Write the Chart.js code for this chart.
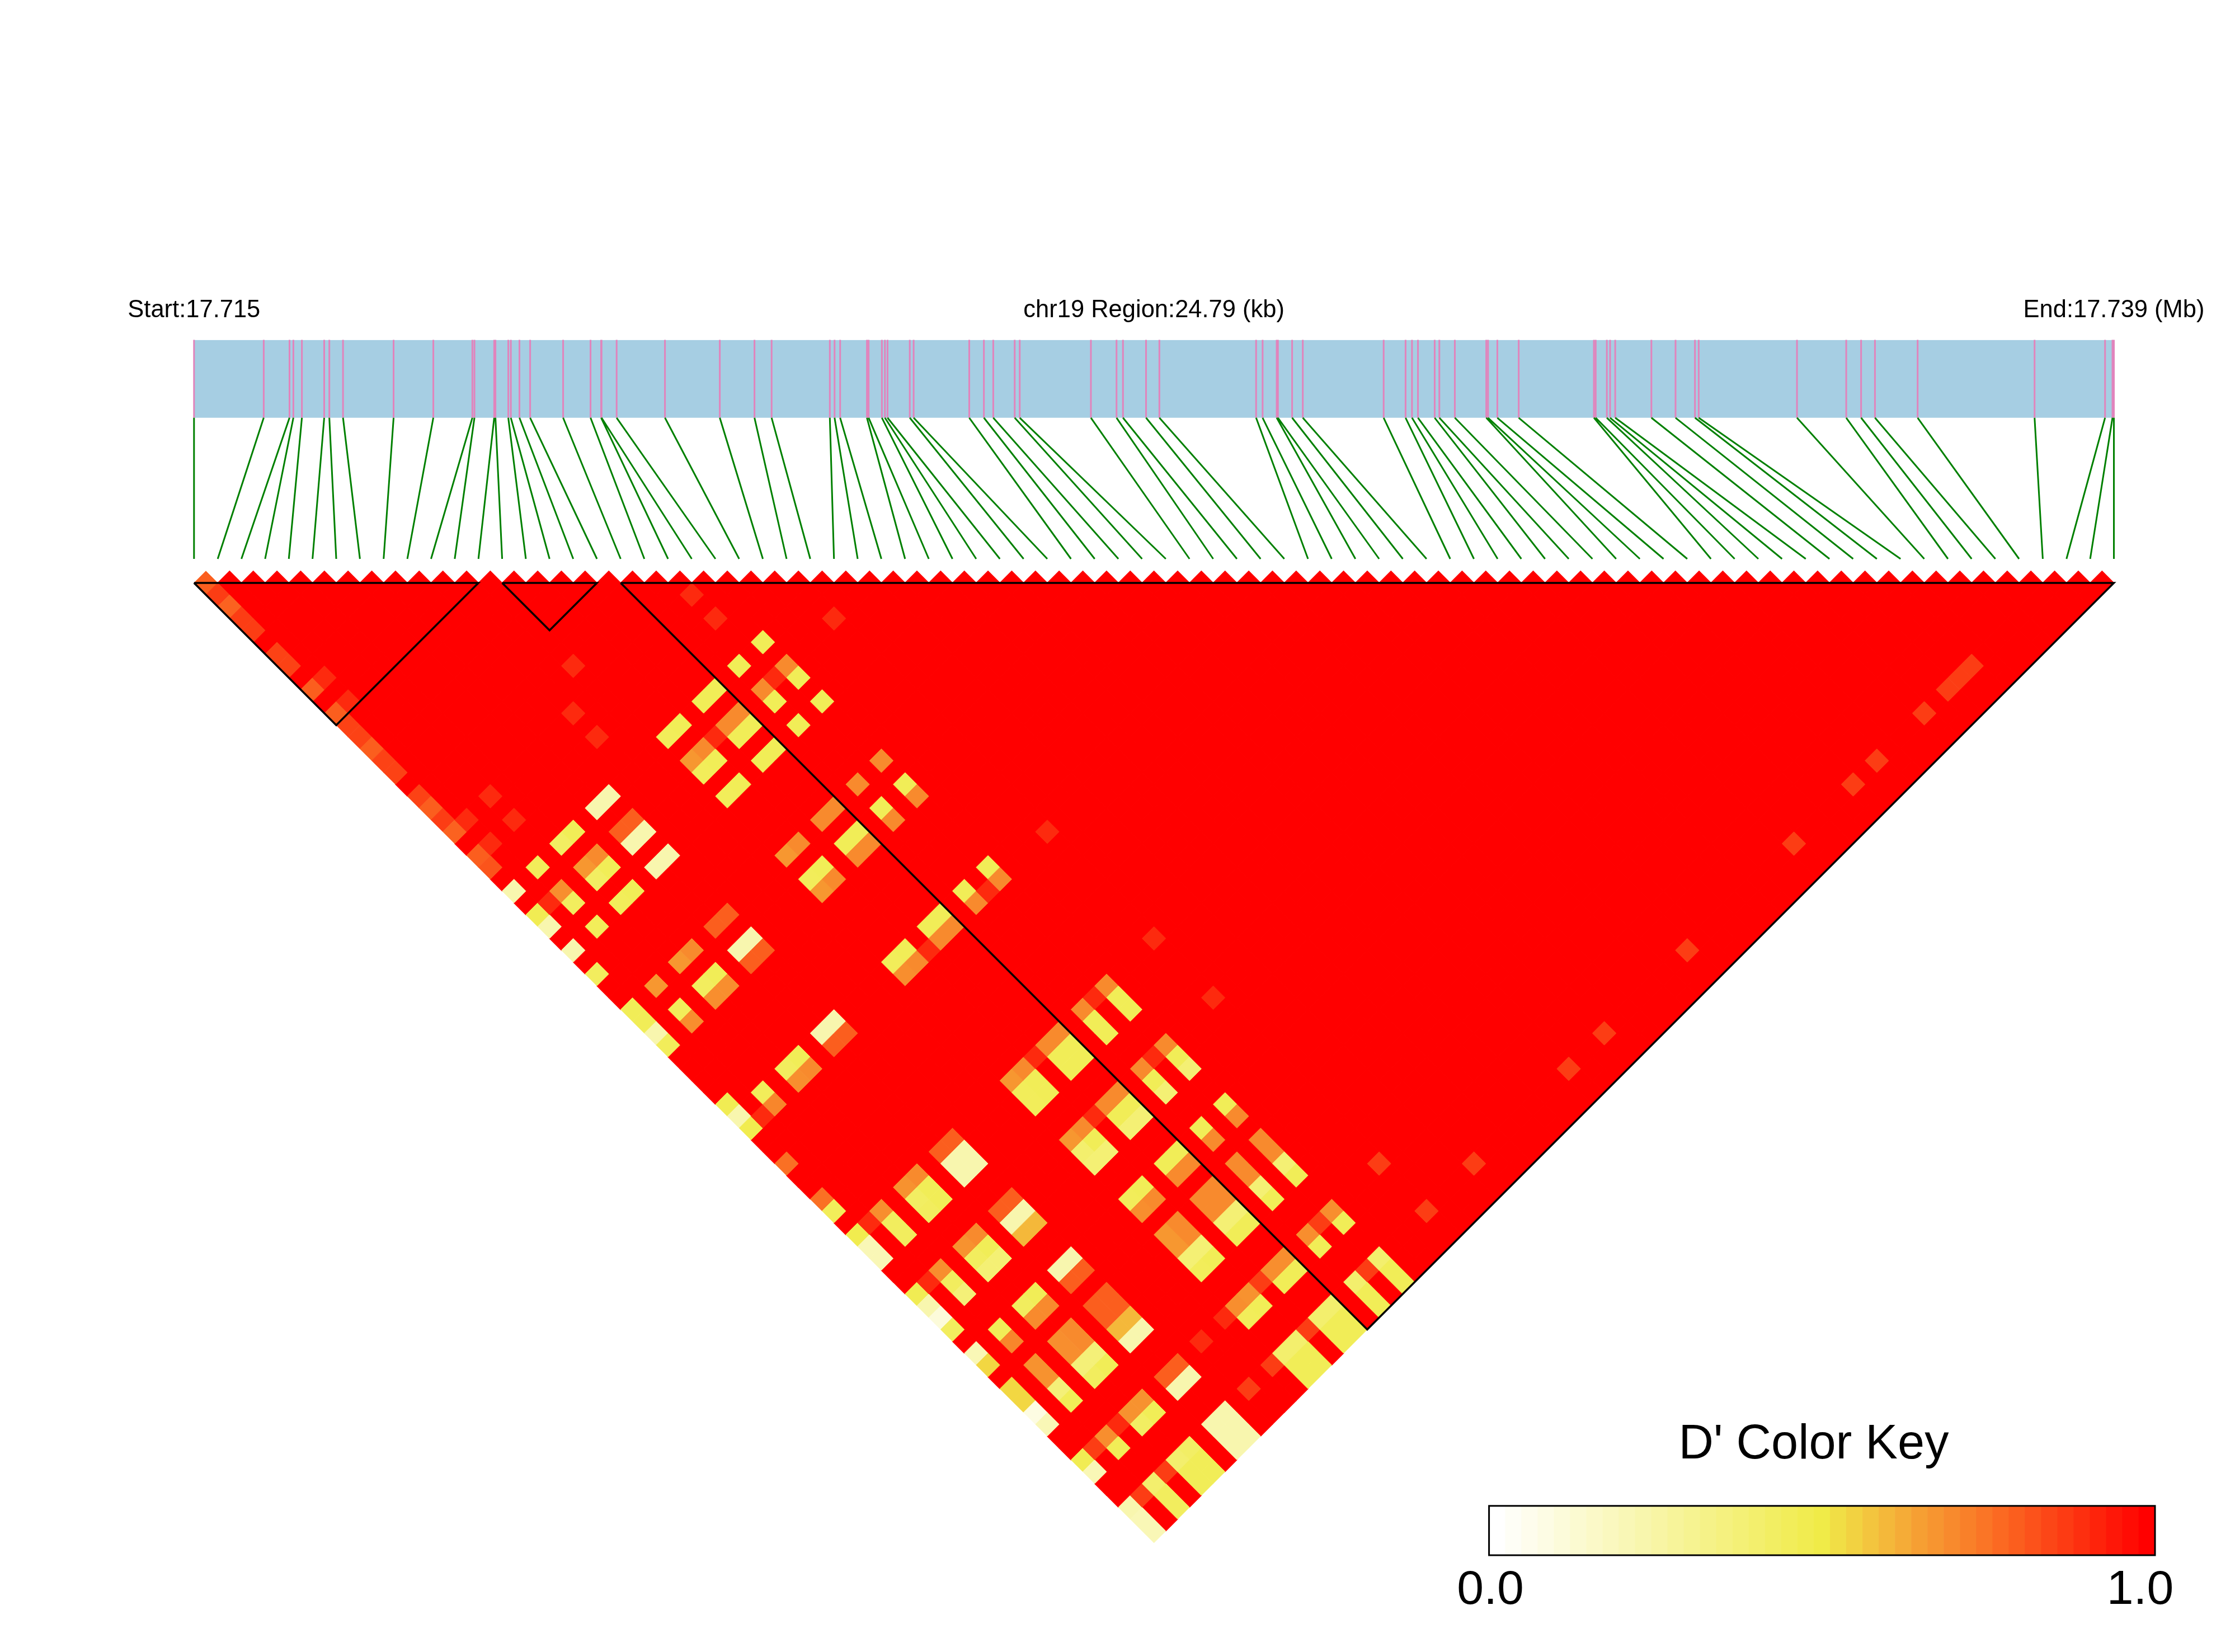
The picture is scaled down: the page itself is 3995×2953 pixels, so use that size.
<!DOCTYPE html>
<html>
<head>
<meta charset="utf-8">
<title>LD heatmap chr19</title>
<style>
  html, body { margin: 0; padding: 0; background: #fff; }
  canvas { position: absolute; display: block; }
</style>
<script src="https://cdn.jsdelivr.net/npm/chart.js@4/dist/chart.umd.js"></script>
</head>
<body>
<canvas id="ldChart" width="3995" height="2953" style="left:0;top:0;width:3995px;height:2953px"></canvas>
<canvas id="keyChart" width="1500" height="453" style="left:2492px;top:2500px;width:1500px;height:453px"></canvas>
<script>
// SNP positions along the region, kb from the start
const snpKb = [0, 0.9, 1.233, 1.283, 1.393, 1.681, 1.747, 1.924, 2.577, 3.09, 3.594, 3.621, 3.876, 3.892, 4.058, 4.091,
  4.202, 4.34, 4.766, 5.12, 5.257, 5.262, 5.457, 6.081, 6.789, 7.237, 7.458, 8.21, 8.271, 8.343, 8.689, 8.711,
  8.882, 8.921, 8.955, 9.242, 9.292, 10.01, 10.199, 10.32, 10.597, 10.662, 11.581, 11.912, 11.995, 12.293, 12.465, 13.714,
  13.798, 13.98, 13.996, 14.179, 14.317, 15.361, 15.644, 15.727, 15.804, 16.02, 16.08, 16.28, 16.686, 16.709,
  16.829, 17.105, 18.076, 18.099, 18.243, 18.285, 18.351, 18.818, 19.13, 19.381, 19.429, 20.698, 21.334, 21.526,
  21.705, 22.256, 23.766, 24.676, 24.772, 24.79];

const regionTicks = [0, 12.395, 24.79];
const regionLabels = ['Start:17.715', 'chr19 Region:24.79 (kb)', 'End:17.739 (Mb)'];

// haplotype blocks, first and last SNP index
const blockStart = [0, 13, 18];
const blockEnd = [12, 17, 81];

// D' below 1.0, [other SNP index, D'], every pair not listed is 1.0
const row0 = [[1,.8],[2,.87],[3,.79],[4,.87],[5,.87],[7,.86],[8,.86],[10,.8],[12,.8],[13,.86],[14,.86],[15,.8],[16,.86],[17,.86],
  [19,.86],[20,.8],[21,.87],[22,.79],[24,.8],[25,.82],[27,.22],[29,.47],[30,.22],[32,.22],[34,.44],[37,.46],[38,.46],[39,.22],
  [40,.45],[45,.47],[46,.22],[47,.48],[50,.76],[53,.76],[54,.45],[56,.48],[57,.2],[58,.2],[61,.47],[62,.22],[63,.1],[64,.44],
  [66,.2],[67,.54],[69,.54],[70,.54],[71,.08],[72,.2],[75,.47],[76,.2],[79,.22],[80,.2],[81,.2]];
const row1 = [[10,.91],[12,.91],[22,.91],[24,.91],[29,.91],[47,.91],[56,.91],[61,.91],[75,.87],[79,.87]];
const row2 = [[27,.45],[29,.69],[30,.44],[32,.45],[37,.67],[39,.45],[40,.69],[46,.45],[47,.71],[56,.69],[57,.44],[58,.44],[61,.69],
  [62,.44],[63,.37],[66,.46],[67,.71],[69,.68],[70,.68],[71,.37],[72,.46],[75,.69],[76,.46],[79,.4],[80,.44],[81,.44]];
const row3 = [[22,.91],[24,.91],[75,.91],[79,.87]];
const row4 = [[27,.43],[29,.67],[30,.43],[32,.45],[37,.67],[39,.44],[40,.69],[46,.44],[47,.69],[56,.68],[57,.43],[58,.44],[61,.68],
  [62,.44],[63,.38],[66,.44],[67,.7],[69,.69],[70,.69],[71,.37],[72,.44],[75,.68],[76,.43],[79,.4],[80,.46],[81,.46]];
const row5 = [[27,.46],[29,.7],[30,.46],[32,.46],[37,.7],[39,.46],[40,.69],[46,.46],[47,.7],[56,.7],[57,.46],[58,.46],[61,.7],
  [62,.46],[63,.38],[66,.46],[67,.7],[69,.7],[70,.7],[71,.37],[72,.46],[75,.68],[76,.46],[79,.42],[80,.46],[81,.46]];
const row7 = [[27,.22],[29,.8],[30,.22],[32,.22],[37,.8],[39,.22],[40,.8],[46,.22],[47,.8],[56,.8],[57,.22],[58,.22],[61,.8],
  [62,.22],[63,.6],[66,.22],[67,.8],[69,.8],[70,.8],[71,.6],[72,.22],[75,.8],[76,.22],[79,.22],[80,.22],[81,.22]];
const row8 = [[27,.22],[29,.8],[30,.22],[32,.22],[37,.8],[39,.22],[40,.8],[46,.22],[47,.8],[56,.8],[57,.22],[58,.22],[61,.8],
  [62,.22],[63,.6],[66,.22],[67,.8],[69,.8],[70,.8],[71,.6],[72,.22],[75,.8],[76,.22],[79,.22],[80,.22],[81,.22]];
const row10 = [[22,.91],[24,.91],[75,.91],[79,.87]];
const row12 = [[20,.91],[75,.91],[79,.87]];
const row13 = [[27,.45],[29,.67],[30,.45],[32,.45],[37,.67],[39,.45],[40,.67],[46,.45],[47,.69],[56,.67],[57,.45],[58,.45],[61,.67],
  [62,.4],[63,.38],[66,.45],[67,.69],[69,.67],[70,.67],[71,.38],[72,.45],[75,.69],[76,.45],[79,.4],[80,.46],[81,.46]];
const row14 = [[27,.46],[29,.7],[30,.46],[32,.46],[37,.7],[39,.46],[40,.7],[46,.46],[47,.7],[56,.7],[57,.46],[58,.46],[61,.7],
  [62,.46],[63,.38],[66,.46],[67,.7],[69,.7],[70,.7],[71,.38],[72,.46],[75,.68],[76,.46],[79,.4],[80,.46],[81,.46]];
const row15 = [[29,.91],[47,.91],[56,.91],[61,.91],[75,.87],[79,.87]];
const row16 = [[27,.46],[29,.7],[30,.46],[32,.46],[37,.7],[39,.46],[40,.7],[46,.46],[47,.7],[56,.7],[57,.46],[58,.46],[61,.7],
  [62,.46],[63,.38],[66,.46],[67,.7],[69,.7],[70,.7],[71,.38],[72,.46],[75,.69],[76,.46],[79,.4],[80,.46],[81,.46]];
const row17 = [[27,.46],[29,.7],[30,.46],[32,.46],[37,.7],[39,.46],[40,.7],[46,.46],[47,.7],[56,.7],[57,.46],[58,.46],[61,.7],
  [62,.46],[63,.38],[66,.46],[67,.7],[69,.7],[70,.7],[71,.38],[72,.46],[75,.69],[76,.46],[79,.4],[80,.46],[81,.46]];
const row19 = [[27,.46],[29,.7],[30,.46],[32,.46],[37,.7],[39,.46],[40,.7],[46,.46],[47,.7],[56,.7],[57,.46],[58,.46],[61,.7],
  [62,.46],[63,.38],[66,.46],[67,.7],[69,.7],[70,.7],[71,.38],[72,.46],[75,.69],[76,.46],[79,.4],[80,.46],[81,.46]];
const row20 = [[22,.91],[24,.91],[29,.91],[47,.91],[56,.91],[61,.91],[75,.87],[79,.87]];
const row21 = [[27,.46],[29,.7],[30,.46],[32,.46],[37,.7],[39,.46],[40,.7],[46,.46],[47,.7],[56,.7],[57,.46],[58,.46],[61,.7],
  [62,.46],[63,.38],[66,.46],[67,.7],[69,.7],[70,.7],[71,.38],[72,.46],[75,.69],[76,.46],[79,.4],[80,.46],[81,.46]];
const row25 = [[29,.91],[47,.91],[56,.91],[61,.91],[75,.87],[79,.87]];
const row29 = [[79,.87]];
const row37 = [[79,.87]];
const row40 = [[79,.87]];
const row47 = [[79,.87]];
const row56 = [[79,.87]];
const row61 = [[79,.87]];
const row63 = [[79,.87]];
const row67 = [[79,.87]];
const row69 = [[79,.87]];
const row70 = [[79,.87]];
const row71 = [[79,.87]];
const lowRowIndex = [0, 1, 2, 3, 4, 5, 7, 8, 10, 12, 13, 14, 15, 16, 17, 19, 20, 21, 25, 29, 37, 40, 47, 56, 61, 63, 67, 69, 70, 71];
const lowRows = [row0, row1, row2, row3, row4, row5, row7, row8, row10, row12, row13, row14, row15, row16, row17, row19, row20, row21,
  row25, row29, row37, row40, row47, row56, row61, row63, row67, row69, row70, row71];

// colour key bins
const keySteps = [0, .025, .05, .075, .1, .125, .15, .175, .2, .225, .25, .275, .3, .325, .35, .375, .4, .425, .45, .475, .5,
  .525, .55, .575, .6, .625, .65, .675, .7, .725, .75, .775, .8, .825, .85, .875, .9, .925, .95, .975, 1];
const rampStops = [0, .5, .65, .75, 1];
const rampColors = [[255, 255, 255], [240, 235, 72], [246, 159, 51], [250, 117, 38], [255, 0, 0]];

const colorFor = d => {
    let k = 0;
    while (k < rampStops.length - 2 && d > rampStops[k + 1]) k++;
    const t = (d - rampStops[k]) / (rampStops[k + 1] - rampStops[k]);
    const c = rampColors[k].map((v, n) => Math.round(v + (rampColors[k + 1][n] - v) * t));
    return `rgb(${c[0]},${c[1]},${c[2]})`;
};

// page layout in px
const plotLeft = 346.8, plotRight = 3778.5, barTop = 607.5, barBottom = 746.8, tickBottom = 999, baseY = 1042, apexY = 2757.5;
const topAxisHeight = 120;

const n = snpKb.length;
const regionKb = snpKb[n - 1];
const cellPx = (plotRight - plotLeft) / (n - 1);
const rowOf = px => (px - baseY) / cellPx;
const kbOf = index => index / (n - 1) * regionKb;

const lowD = new Map();
lowRowIndex.forEach((i, r) => lowRows[r].forEach(([j, d]) => lowD.set(i + '-' + j, d)));

const cellData = [], cellColors = [], cellBorders = [];
const pushCell = (i, j, d) => {
    cellData.push({ x: kbOf((i + j) / 2), y: (j - i - 1) / 2 });
    cellColors.push(colorFor(d));
    cellBorders.push(d === 1 ? 1.5 : 1);
};
// red cells first so the lighter ones sit on top
for (let i = 0; i < n; i++) for (let j = i + 1; j < n; j++) if (!lowD.has(i + '-' + j)) pushCell(i, j, 1);
lowD.forEach((d, key) => { const [i, j] = key.split('-').map(Number); pushCell(i, j, d); });

const gap = { x: null, y: null };
const pinkLines = snpKb.flatMap(kb => [{ x: kb, y: rowOf(barTop) }, { x: kb, y: rowOf(barBottom) }, gap]);
const greenLines = snpKb.flatMap((kb, i) => [{ x: kb, y: rowOf(barBottom) }, { x: kbOf(i), y: rowOf(tickBottom) }, gap]);
const blockLines = blockStart.flatMap((a, b) => [
    { x: kbOf(a), y: 0 }, { x: kbOf(blockEnd[b]), y: 0 },
    { x: kbOf((a + blockEnd[b]) / 2), y: (blockEnd[b] - a) / 2 }, { x: kbOf(a), y: 0 }, gap]);

const lineSet = (data, color, width) => ({
    data, showLine: true, borderColor: color, borderWidth: width, pointRadius: 0, clip: false, spanGaps: false
});

new Chart(document.getElementById('ldChart').getContext('2d'), {
    type: 'scatter',
    data: {
        datasets: [
            lineSet(blockLines, '#000000', 3.5),
            {
                data: cellData,
                pointStyle: 'rectRot',
                pointRadius: cellPx / 2,
                pointBackgroundColor: cellColors,
                pointBorderColor: cellColors,
                pointBorderWidth: cellBorders,
                clip: false
            },
            lineSet(greenLines, '#008000', 3),
            lineSet(pinkLines, '#E184BC', 3),
            {
                data: [{ x: 0, y: rowOf(barTop) }, { x: regionKb, y: rowOf(barTop) }],
                showLine: true,
                borderWidth: 0,
                pointRadius: 0,
                fill: { value: rowOf(barBottom) },
                backgroundColor: '#A6CEE3'
            }
        ]
    },
    options: {
        responsive: false,
        devicePixelRatio: 1,
        animation: false,
        events: [],
        layout: {
            padding: { left: plotLeft, right: 3995 - plotRight, top: barTop - topAxisHeight, bottom: 2953 - apexY }
        },
        plugins: { legend: { display: false }, tooltip: { enabled: false }, title: { display: false } },
        scales: {
            x: {
                type: 'linear',
                position: 'top',
                min: 0,
                max: regionKb,
                afterBuildTicks: axis => { axis.ticks = regionTicks.map(value => ({ value })); },
                afterFit: axis => { axis.height = topAxisHeight; },
                grid: { display: false, drawTicks: false },
                border: { display: false },
                ticks: {
                    autoSkip: false,
                    maxRotation: 0,
                    minRotation: 0,
                    padding: 26.5,
                    color: '#000000',
                    font: { family: '"Liberation Sans"', size: 43.5 },
                    callback: (value, index) => regionLabels[index]
                }
            },
            y: {
                type: 'linear',
                reverse: true,
                display: false,
                min: rowOf(barTop),
                max: rowOf(apexY)
            }
        }
    }
});

// frame round the colour key
const keyFrame = {
    id: 'keyFrame',
    afterDatasetsDraw(chart) {
        const { ctx, chartArea: a } = chart;
        ctx.save();
        ctx.strokeStyle = '#000000';
        ctx.lineWidth = 3;
        ctx.strokeRect(a.left, a.top, a.right - a.left, a.bottom - a.top);
        ctx.restore();
    }
};

new Chart(document.getElementById('keyChart').getContext('2d'), {
    type: 'bar',
    data: {
        labels: keySteps,
        datasets: [{
            data: keySteps.map(() => 1),
            backgroundColor: keySteps.map(colorFor),
            barPercentage: 1,
            categoryPercentage: 1
        }]
    },
    options: {
        responsive: false,
        devicePixelRatio: 1,
        animation: false,
        events: [],
        layout: { padding: { left: 140, right: 140, top: 0, bottom: 45.8 } },
        plugins: {
            legend: { display: false },
            tooltip: { enabled: false },
            title: {
                display: true,
                text: "D' Color Key",
                color: '#000000',
                font: { family: '"Liberation Sans"', size: 86.5, weight: 'normal' },
                padding: { top: 31, bottom: 57 }
            }
        },
        scales: {
            x: {
                grid: { display: false, drawTicks: false },
                border: { display: false },
                ticks: {
                    autoSkip: false,
                    maxRotation: 0,
                    padding: 12,
                    labelOffset: -12,
                    color: '#000000',
                    font: { family: '"Liberation Sans"', size: 86 },
                    callback: (value, index) => index === 0 ? '0.0' : index === keySteps.length - 1 ? '1.0' : ''
                }
            },
            y: {
                min: 0,
                max: 1,
                grid: { display: false, drawTicks: false },
                border: { display: false },
                ticks: { display: false },
                afterFit: axis => { axis.width = 29.6; }
            }
        }
    },
    plugins: [keyFrame]
});
</script>
</body>
</html>
